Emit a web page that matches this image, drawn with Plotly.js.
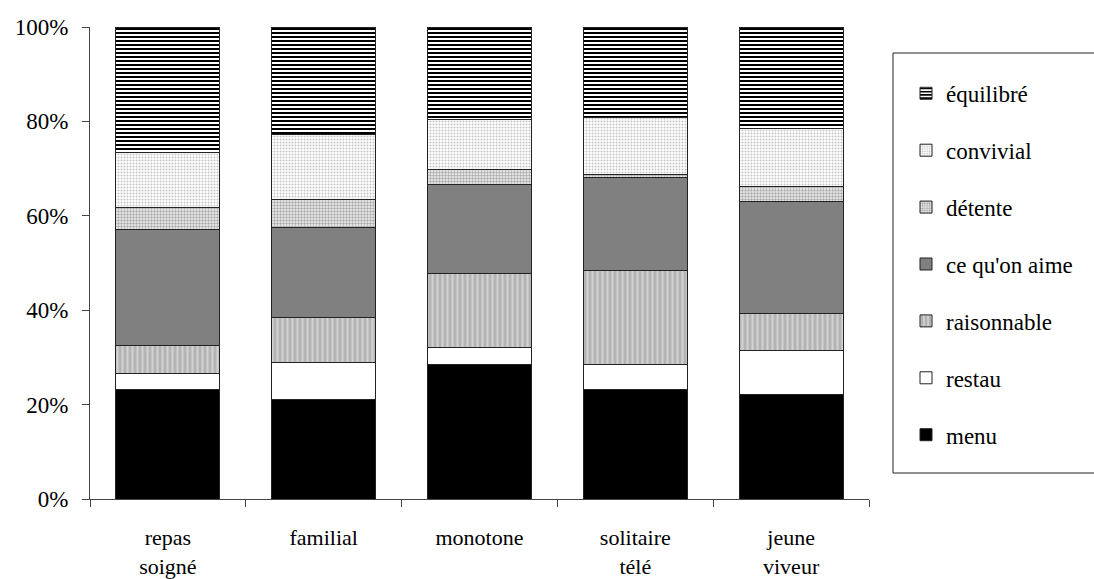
<!DOCTYPE html>
<html>
<head>
<meta charset="utf-8">
<script src="https://cdn.plot.ly/plotly-3.0.1.min.js"></script>
<style>html,body{margin:0;padding:0;background:#fff;}#chart{width:1094px;height:579px;}</style>
</head>
<body>
<div id="chart"></div>
<script>
var categories = ['repas<br>soigné', 'familial', 'monotone', 'solitaire<br>télé', 'jeune<br>viveur'];
var menu        = [23.2, 21.1, 28.6, 23.2, 22.2];
var restau      = [3.4, 7.9, 3.5, 5.2, 9.3];
var raisonnable = [6.0, 9.4, 15.6, 20.1, 7.9];
var ceQuOnAime  = [24.6, 19.1, 19.0, 19.7, 23.6];
var detente     = [4.6, 5.9, 3.2, 0.5, 3.3];
var convivial   = [11.7, 13.9, 10.5, 12.2, 12.2];
var equilibre   = [26.5, 22.7, 19.6, 19.1, 21.5];
var yTicks = [0, 20, 40, 60, 80, 100];
var yTickLabels = ['0%', '20%', '40%', '60%', '80%', '100%'];

var series = [
  {name: 'menu', y: menu, color: '#000000'},
  {name: 'restau', y: restau, color: '#ffffff'},
  {name: 'raisonnable', y: raisonnable, color: '#b8b8b8', pattern: {shape: '|', fgcolor: '#d2d2d2', bgcolor: '#b4b4b4', size: 5, solidity: 0.4}},
  {name: "ce qu'on aime", y: ceQuOnAime, color: '#808080'},
  {name: 'détente', y: detente, color: '#dddddd', pattern: {shape: '.', fgcolor: '#aaaaaa', bgcolor: '#f2f2f2', size: 3, solidity: 0.5}},
  {name: 'convivial', y: convivial, color: '#eeeeee', pattern: {shape: '.', fgcolor: '#c4c4c4', bgcolor: '#ffffff', size: 3, solidity: 0.35}},
  {name: 'équilibré', y: equilibre, color: '#000000', pattern: {shape: '-', fgcolor: '#000000', bgcolor: '#ffffff', size: 4, solidity: 0.5}}
];

var font = "Liberation Serif";
var n = series.length;
var traces = series.map(function(s, i) {
  var m = {color: s.color, line: {color: '#222222', width: 1}};
  if (s.pattern) { m.pattern = s.pattern; }
  return {type: 'bar', name: s.name, x: categories, y: s.y, marker: m,
          legendgroup: 'g' + i, legendrank: (n - i) * 10};
});

var layout = {
  width: 1094, height: 579,
  margin: {l: 90, r: 225, t: 27, b: 80},
  paper_bgcolor: '#ffffff', plot_bgcolor: '#ffffff',
  barmode: 'stack', bargap: 0.333,
  font: {family: font, size: 23, color: '#000'},
  xaxis: {
    showline: true, linecolor: '#444', linewidth: 1,
    ticks: 'outside', ticklen: 7, tickcolor: '#444', tickson: 'boundaries',
    showgrid: false, ticklabelstandoff: 19,
    tickfont: {family: font, size: 22, color: '#000'}
  },
  yaxis: {
    range: [0, 100], tickvals: yTicks, ticktext: yTickLabels,
    showline: true, linecolor: '#444', linewidth: 1,
    ticks: 'outside', ticklen: 7, tickcolor: '#444',
    showgrid: false, zeroline: false, ticklabelstandoff: 9,
    tickfont: {family: font, size: 23, color: '#000'}
  },
  showlegend: true,
  legend: {
    x: (906 - 90) / 779, xanchor: 'left', y: 0.905, yanchor: 'top',
    traceorder: 'grouped', tracegroupgap: 24,
    bgcolor: 'rgba(0,0,0,0)', borderwidth: 0,
    font: {family: font, size: 23, color: '#000'}
  },
  shapes: [{
    type: 'rect', xref: 'paper', yref: 'paper',
    x0: (893 - 90) / 779, x1: (1110 - 90) / 779,
    y0: (499 - 473) / 472, y1: (499 - 53) / 472,
    line: {color: '#222', width: 1}, fillcolor: 'rgba(0,0,0,0)'
  }]
};

function draw() {
  Plotly.newPlot('chart', traces, layout, {displayModeBar: false, staticPlot: true});
}
if (document.fonts && document.fonts.load) {
  document.fonts.load('23px "Liberation Serif"').then(draw, draw);
} else {
  draw();
}
</script>
</body>
</html>
